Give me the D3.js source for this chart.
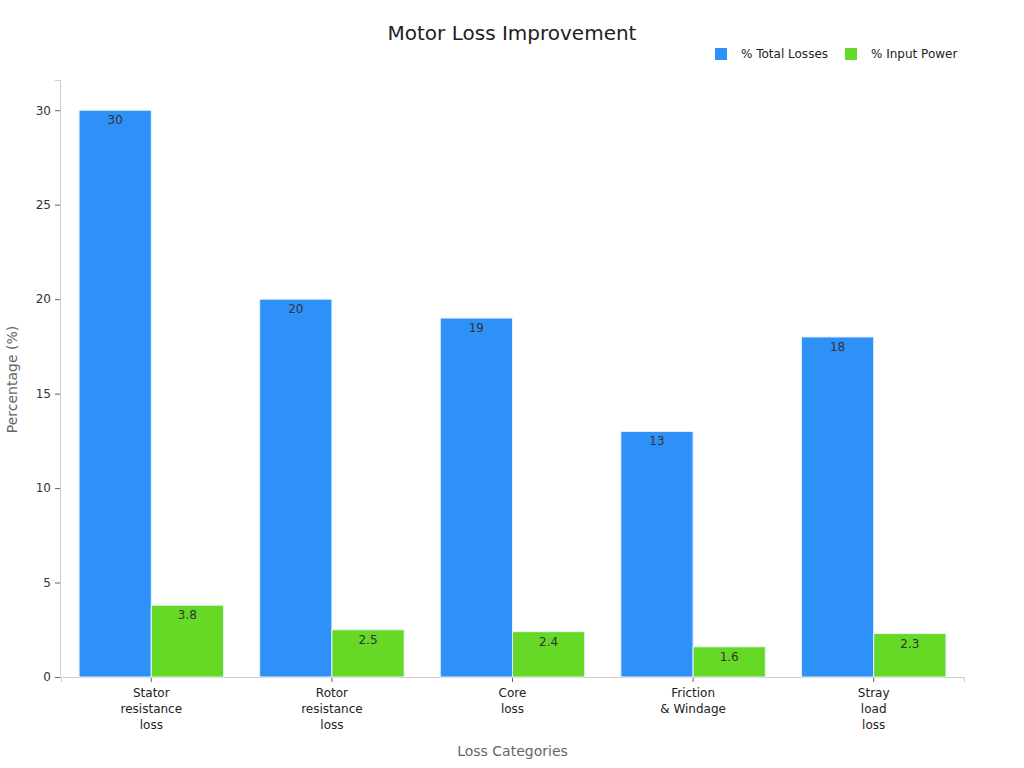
<!DOCTYPE html>
<html>
<head>
<meta charset="utf-8">
<script src="https://cdn.jsdelivr.net/npm/d3@7"></script>
<style>
  body { margin: 0; background: #fff; }
  svg { font-family: "DejaVu Sans", sans-serif; }
</style>
</head>
<body>
<div id="chart"></div>
<script>
const categories = ["Stator\nresistance\nloss", "Rotor\nresistance\nloss", "Core\nloss", "Friction\n& Windage", "Stray\nload\nloss"]
const seriesNames = ["% Total Losses", "% Input Power"]
const totalLosses = [30, 20, 19, 13, 18]
const inputPower = [3.8, 2.5, 2.4, 1.6, 2.3]
const yTicks = [0, 5, 10, 15, 20, 25, 30]
const colors = ["#2e91f8", "#66d926"]

const width = 1024, height = 768
const margin = { top: 80, right: 60, bottom: 91, left: 61 }
const font = '"DejaVu Sans", sans-serif'

const svg = d3.select('#chart').append('svg')
    .attr('width', width).attr('height', height)

const x = d3.scaleBand().domain(categories)
    .range([margin.left, width - margin.right]).paddingInner(0.2).paddingOuter(0.1)
const xSub = d3.scaleBand().domain(seriesNames).range([0, x.bandwidth()])
const y = d3.scaleLinear().domain([0, 31.6]).range([height - margin.bottom, margin.top])

// axes
const yAxis = svg.append('g')
    .attr('transform', `translate(${margin.left - 1},0)`)
    .call(d3.axisLeft(y).tickValues(yTicks).tickSize(5).tickPadding(4))
    .attr('font-family', font)
yAxis.select('.domain').attr('stroke', '#ccc')
yAxis.selectAll('.tick line').attr('stroke', '#666')
yAxis.selectAll('.tick text').attr('fill', '#333').style('font-size', '12px')

const xAxis = svg.append('g')
    .attr('transform', `translate(0,${height - margin.bottom})`)
    .call(d3.axisBottom(x).tickSize(5).tickFormat(''))
    .attr('font-family', font)
xAxis.select('.domain').attr('stroke', '#ccc')
xAxis.selectAll('.tick line').attr('stroke', '#666')
xAxis.selectAll('.tick').append('text')
    .attr('fill', '#222').style('font-size', '12px').attr('text-anchor', 'middle')
    .selectAll('tspan')
    .data(d => d.split('\n'))
    .enter().append('tspan')
    .attr('x', 0).attr('y', (d, i) => 20 + i * 16)
    .text(d => d)

// bars
const rows = categories.map((c, i) => ({ cat: c, vals: [totalLosses[i], inputPower[i]] }))
const groups = svg.selectAll('g.grp').data(rows).enter().append('g')
    .attr('class', 'grp')
    .attr('transform', d => `translate(${x(d.cat)},0)`)

const bars = groups.selectAll('g.bar')
    .data(d => d.vals.map((v, j) => ({ name: seriesNames[j], v, j })))
    .enter().append('g').attr('class', 'bar')

bars.append('rect')
    .attr('x', d => xSub(d.name))
    .attr('width', xSub.bandwidth())
    .attr('y', d => y(d.v))
    .attr('height', d => y(0) - y(d.v))
    .attr('fill', d => colors[d.j])
    .attr('stroke', '#e8f2ff').attr('stroke-width', 1)

bars.append('text')
    .attr('x', d => xSub(d.name) + xSub.bandwidth() / 2)
    .attr('y', d => y(d.v) + 14)
    .attr('text-anchor', 'middle')
    .attr('fill', '#333').style('font-size', '12px')
    .text(d => d.v)

// title
svg.append('text').attr('x', 512).attr('y', 40).attr('text-anchor', 'middle')
    .attr('fill', '#222').style('font-size', '20px').text('Motor Loss Improvement')

// axis titles
svg.append('text').attr('x', (margin.left + width - margin.right) / 2).attr('y', 756)
    .attr('text-anchor', 'middle').attr('fill', '#666').style('font-size', '14px')
    .text('Loss Categories')
svg.append('text').attr('transform', `translate(17,${(margin.top + height - margin.bottom) / 2 + 1}) rotate(-90)`)
    .attr('text-anchor', 'middle').attr('fill', '#666').style('font-size', '14px')
    .text('Percentage (%)')

// legend
const legendX = [715, 845]
const legend = svg.selectAll('g.legend').data(seriesNames).enter().append('g')
    .attr('class', 'legend')
    .attr('transform', (d, i) => `translate(${legendX[i]},48)`)
legend.append('rect').attr('width', 12).attr('height', 12)
    .attr('fill', (d, i) => colors[i])
legend.append('text').attr('x', 26).attr('y', 10)
    .attr('fill', '#222').style('font-size', '12px').text(d => d)
</script>
</body>
</html>
